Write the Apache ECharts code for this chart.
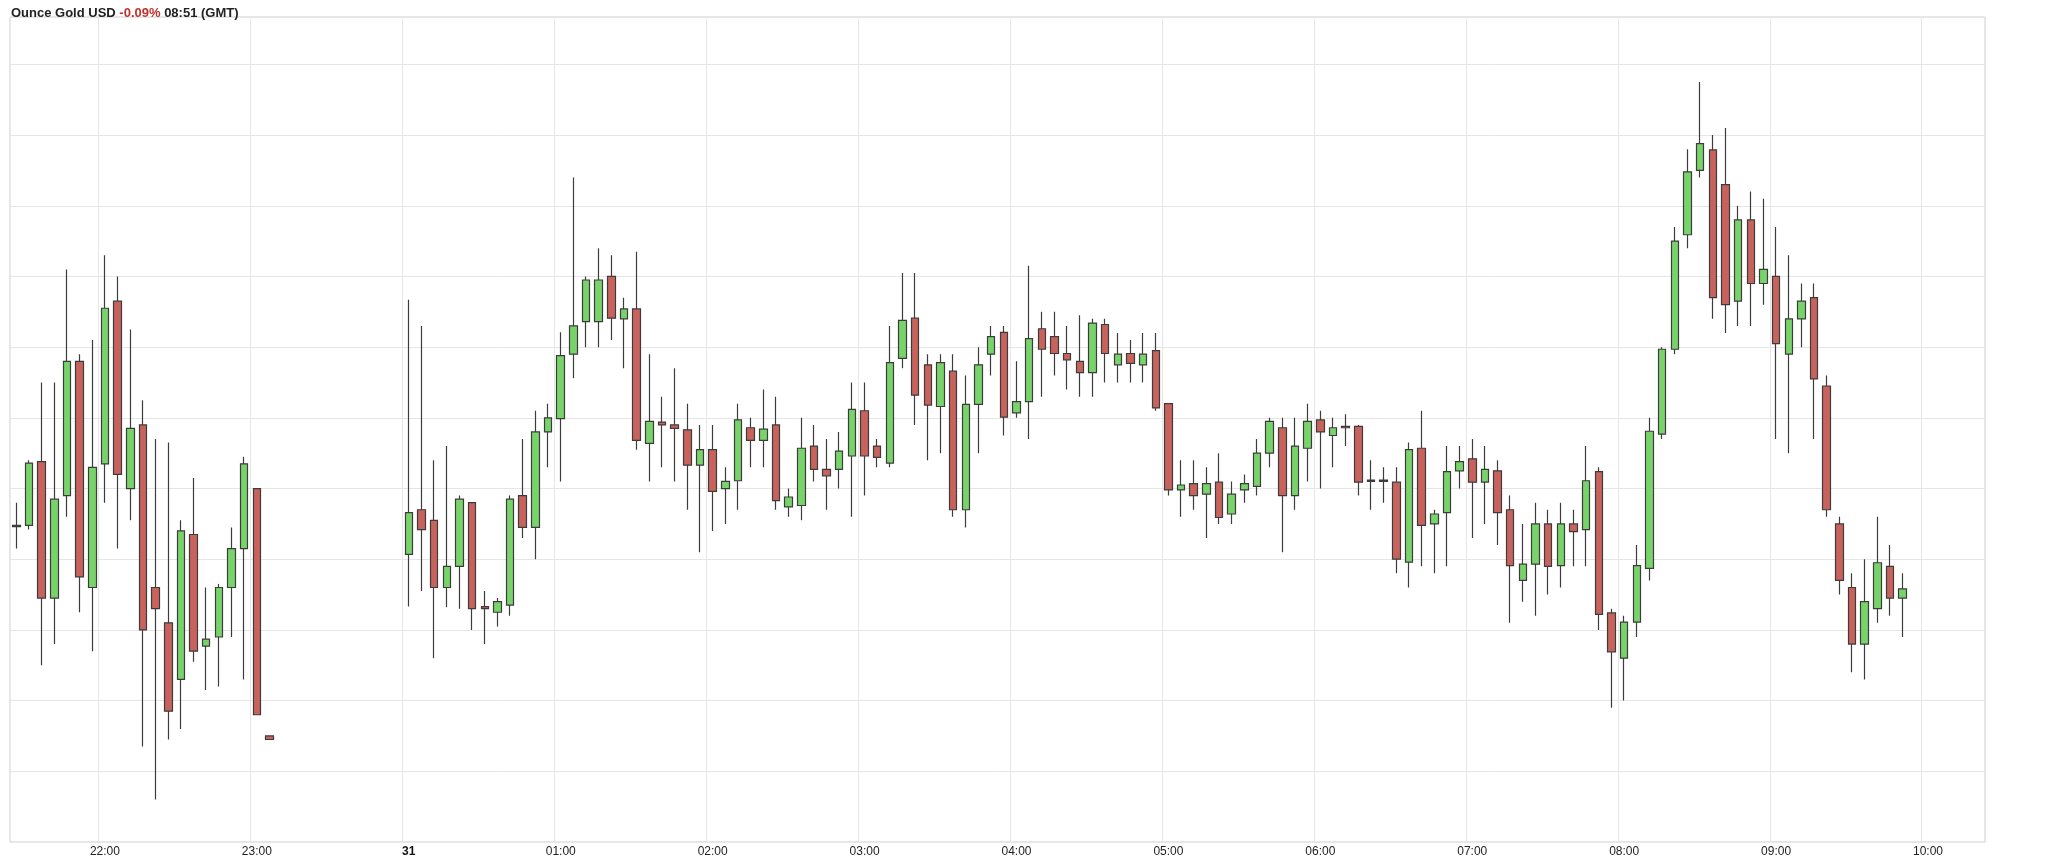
<!DOCTYPE html>
<html>
<head>
<meta charset="utf-8">
<script src="https://cdn.jsdelivr.net/npm/echarts@6/dist/echarts.min.js"></script>
<style>
  html, body { margin: 0; padding: 0; background: #fff; }
  #main { width: 2048px; height: 860px; }
</style>
</head>
<body>
<div id="main"></div>
<script>
// 5 minute slots, 21:25 -> 10:20
var startMin = 21 * 60 + 25;
var slotCount = 156;

// [open, close, low, high]  evening session 21:25 - 23:05
var session1 = [
  [2794.78, 2794.76, 2794.45, 2795.1],
  [2794.78, 2795.66, 2794.72, 2795.7],
  [2795.68, 2793.75, 2792.8, 2796.8],
  [2793.75, 2795.15, 2793.1, 2796.8],
  [2795.2, 2797.1, 2794.9, 2798.4],
  [2797.1, 2794.05, 2793.55, 2797.2],
  [2793.9, 2795.6, 2793.0, 2797.4],
  [2795.65, 2797.85, 2795.1, 2798.6],
  [2797.95, 2795.5, 2794.45, 2798.3],
  [2795.3, 2796.15, 2794.85, 2797.55],
  [2796.2, 2793.3, 2791.65, 2796.55],
  [2793.9, 2793.6, 2790.9, 2796.0],
  [2793.4, 2792.15, 2791.75, 2795.95],
  [2792.6, 2794.7, 2791.9, 2794.85],
  [2794.65, 2793.0, 2792.85, 2795.45],
  [2793.07, 2793.17, 2792.45, 2793.9],
  [2793.2, 2793.9, 2792.5, 2793.95],
  [2793.9, 2794.45, 2793.2, 2794.75],
  [2794.45, 2795.65, 2792.6, 2795.75],
  [2795.3, 2792.1, 2792.1, 2795.3],
  [2791.8, 2791.75, 2791.75, 2791.8]
];
var gapSlots = 10;

// session from 00:00
var session2 = [
  [2794.37, 2794.96, 2793.63, 2797.97],
  [2795.0, 2794.72, 2793.85, 2797.6],
  [2794.85, 2793.9, 2792.9, 2795.7],
  [2793.9, 2794.2, 2793.62, 2795.9],
  [2794.2, 2795.15, 2793.6, 2795.2],
  [2795.1, 2793.6, 2793.3, 2795.1],
  [2793.63, 2793.6, 2793.1, 2793.85],
  [2793.55, 2793.7, 2793.35, 2793.75],
  [2793.65, 2795.15, 2793.5, 2795.2],
  [2795.2, 2794.75, 2794.6, 2796.0],
  [2794.75, 2796.1, 2794.3, 2796.4],
  [2796.1, 2796.3, 2795.6, 2796.5],
  [2796.29, 2797.18, 2795.4, 2797.51],
  [2797.2, 2797.6, 2796.86, 2799.7],
  [2797.66, 2798.25, 2797.3, 2798.3],
  [2797.66, 2798.25, 2797.3, 2798.7],
  [2798.3, 2797.71, 2797.4, 2798.6],
  [2797.7, 2797.84, 2797.0, 2798.0],
  [2797.84, 2795.98, 2795.85, 2798.65],
  [2795.94, 2796.25, 2795.4, 2797.2],
  [2796.24, 2796.2, 2795.6, 2796.6],
  [2796.2, 2796.15, 2795.4, 2797.0],
  [2796.13, 2795.63, 2795.0, 2796.5],
  [2795.63, 2795.85, 2794.4, 2796.2],
  [2795.85, 2795.26, 2794.7, 2796.2],
  [2795.3, 2795.4, 2794.8, 2795.6],
  [2795.41, 2796.27, 2795.0, 2796.5],
  [2796.16, 2795.98, 2795.6, 2796.3],
  [2795.98, 2796.14, 2795.6, 2796.7],
  [2796.2, 2795.13, 2795.0, 2796.6],
  [2795.04, 2795.18, 2794.9, 2795.3],
  [2795.06, 2795.87, 2794.85, 2796.3],
  [2795.9, 2795.57, 2795.4, 2796.2],
  [2795.57, 2795.48, 2795.0, 2796.0],
  [2795.57, 2795.83, 2795.3, 2796.1],
  [2795.76, 2796.42, 2794.9, 2796.8],
  [2796.4, 2795.76, 2795.2, 2796.8],
  [2795.9, 2795.74, 2795.6, 2796.0],
  [2795.66, 2797.08, 2795.6, 2797.6],
  [2797.14, 2797.68, 2797.0, 2798.35],
  [2797.71, 2796.62, 2796.2, 2798.35],
  [2797.05, 2796.48, 2795.7, 2797.2],
  [2796.46, 2797.08, 2795.8, 2797.2],
  [2796.96, 2795.0, 2794.9, 2797.2],
  [2795.0, 2796.49, 2794.75, 2796.9],
  [2796.49, 2797.05, 2795.8, 2797.3],
  [2797.2, 2797.45, 2796.9, 2797.6],
  [2797.51, 2796.31, 2796.05, 2797.6],
  [2796.37, 2796.53, 2796.3, 2797.1],
  [2796.53, 2797.42, 2796.0, 2798.45],
  [2797.56, 2797.27, 2796.6, 2797.8],
  [2797.45, 2797.21, 2796.9, 2797.8],
  [2797.21, 2797.12, 2796.7, 2797.6],
  [2797.1, 2796.94, 2796.6, 2797.75],
  [2796.94, 2797.64, 2796.6, 2797.7],
  [2797.62, 2797.21, 2796.8, 2797.7],
  [2797.05, 2797.2, 2796.8, 2797.5],
  [2797.21, 2797.07, 2796.8, 2797.4],
  [2797.05, 2797.2, 2796.8, 2797.5],
  [2797.25, 2796.44, 2796.4, 2797.5],
  [2796.5, 2795.28, 2795.2, 2796.5],
  [2795.28, 2795.35, 2794.9, 2795.7],
  [2795.37, 2795.2, 2795.0, 2795.7],
  [2795.22, 2795.37, 2794.6, 2795.6],
  [2795.39, 2794.89, 2794.8, 2795.8],
  [2794.94, 2795.22, 2794.8, 2795.4],
  [2795.28, 2795.37, 2795.1, 2795.5],
  [2795.33, 2795.8, 2795.2, 2796.0],
  [2795.8, 2796.25, 2795.6, 2796.3],
  [2796.16, 2795.2, 2794.4, 2796.3],
  [2795.2, 2795.9, 2795.0, 2796.3],
  [2795.87, 2796.25, 2795.4, 2796.5],
  [2796.27, 2796.1, 2795.3, 2796.4],
  [2796.05, 2796.16, 2795.6, 2796.3],
  [2796.18, 2796.16, 2795.9, 2796.35],
  [2796.18, 2795.39, 2795.2, 2796.2],
  [2795.42, 2795.4, 2795.0, 2795.7],
  [2795.4, 2795.42, 2795.1, 2795.6],
  [2795.39, 2794.3, 2794.1, 2795.6],
  [2794.26, 2795.85, 2793.9, 2795.95],
  [2795.87, 2794.78, 2794.2, 2796.4],
  [2794.8, 2794.94, 2794.1, 2795.0],
  [2794.96, 2795.54, 2794.2, 2795.9],
  [2795.55, 2795.68, 2795.3, 2795.9],
  [2795.72, 2795.39, 2794.6, 2796.0],
  [2795.39, 2795.57, 2794.8, 2795.9],
  [2795.55, 2794.96, 2794.5, 2795.7],
  [2795.0, 2794.21, 2793.4, 2795.2],
  [2794.0, 2794.23, 2793.7, 2794.8],
  [2794.23, 2794.8, 2793.5, 2795.1],
  [2794.8, 2794.2, 2793.8, 2795.0],
  [2794.21, 2794.8, 2793.9, 2795.1],
  [2794.8, 2794.69, 2794.2, 2795.0],
  [2794.72, 2795.41, 2794.2, 2795.9],
  [2795.54, 2793.52, 2793.3, 2795.6],
  [2793.54, 2792.99, 2792.2, 2793.6],
  [2792.9, 2793.41, 2792.3, 2793.5],
  [2793.41, 2794.21, 2793.2, 2794.5],
  [2794.17, 2796.11, 2794.0, 2796.3],
  [2796.07, 2797.27, 2796.0, 2797.3],
  [2797.27, 2798.8, 2797.2, 2799.0],
  [2798.89, 2799.78, 2798.7, 2800.1],
  [2799.8, 2800.18, 2799.7, 2801.05],
  [2800.09, 2798.0, 2797.7, 2800.3],
  [2799.6, 2797.9, 2797.5, 2800.4],
  [2797.95, 2799.1, 2797.6, 2799.3],
  [2799.1, 2798.2, 2797.6, 2799.5],
  [2798.2, 2798.4, 2797.9, 2799.4],
  [2798.3, 2797.35, 2796.0, 2799.0],
  [2797.2, 2797.7, 2795.8, 2798.6],
  [2797.7, 2797.95, 2797.3, 2798.2],
  [2798.0, 2796.85, 2796.0, 2798.2],
  [2796.75, 2795.0, 2794.9, 2796.9],
  [2794.8, 2794.0, 2793.8, 2794.9],
  [2793.9, 2793.1, 2792.7, 2794.1],
  [2793.1, 2793.7, 2792.6, 2794.3],
  [2793.6, 2794.25, 2793.4, 2794.9],
  [2794.2, 2793.75, 2793.5, 2794.5],
  [2793.75, 2793.88, 2793.2, 2794.1]
];

var lastPrice = 2793.88;
var countdown = '3m49s';
var yTicks = [2791, 2792, 2793, 2794, 2795, 2796, 2797, 2798, 2799, 2800, 2801];

var times = [];
for (var i = 0; i < slotCount; i++) {
    var m = (startMin + i * 5) % 1440;
    var hh = Math.floor(m / 60), mm = m % 60;
    times.push((hh < 10 ? '0' : '') + hh + ':' + (mm < 10 ? '0' : '') + mm);
}

var candles = session1.slice();
for (var g = 0; g < gapSlots; g++) candles.push('-');
candles = candles.concat(session2);
while (candles.length < slotCount) candles.push('-');

var isHour = function (idx) { return times[idx].slice(3) === '00'; };

var chart = echarts.init(document.getElementById('main'));
var option = {
    backgroundColor: '#fff',
    animation: false,
    title: {
        left: 6, top: 2,
        text: '{a|Ounce Gold USD }{r|-0.09%}{a| 08:51 (GMT)}',
        textStyle: {
            rich: {
                a: {fontFamily: 'Liberation Sans', fontSize: 13, color: '#222'},
                r: {fontFamily: 'Liberation Sans', fontSize: 13, color: '#c0322b'}
            }
        }
    },
    grid: {left: 10, right: 63, top: 17, bottom: 18, show: true, borderColor: '#cfcfcf', borderWidth: 1},
    xAxis: {
        type: 'category',
        data: times,
        axisLine: {show: false},
        axisTick: {show: false},
        splitLine: {show: true, interval: function (idx) { return isHour(idx); }, lineStyle: {color: '#e6e6e6'}},
        axisLabel: {
            interval: function (idx) { return isHour(idx); },
            margin: 4,
            fontFamily: 'Liberation Sans', fontSize: 12, color: '#222',
            formatter: function (v) { return v === '00:00' ? '{b|31}' : v; },
            rich: {b: {fontWeight: 'bold', fontFamily: 'Liberation Sans', fontSize: 12, color: '#111'}}
        }
    },
    yAxis: {
        type: 'value',
        position: 'right',
        min: 2790.3, max: 2801.97,
        interval: 1,
        axisLine: {show: false},
        axisTick: {show: false},
        splitLine: {lineStyle: {color: '#e6e6e6'}},
        axisLabel: {
            margin: 6,
            fontFamily: 'Liberation Sans', fontSize: 12, color: '#222',
            formatter: function (v) {
                if (yTicks.indexOf(Math.round(v * 100) / 100) < 0) return '';
                return (v === 2795 || v === 2800) ? '{b|' + v + '}' : String(v);
            },
            rich: {b: {fontWeight: 'bold', fontFamily: 'Liberation Sans', fontSize: 12, color: '#111'}}
        }
    },
    series: [{
        type: 'candlestick',
        data: candles,
        barWidth: 8,
        itemStyle: {
            color: '#78d46a', color0: '#c8625d',
            borderColor: '#3c3c3c', borderColor0: '#3c3c3c', borderWidth: 1.2
        },
        markLine: {
            symbol: 'none', silent: true,
            lineStyle: {opacity: 0},
            data: [{yAxis: lastPrice}],
            label: {
                position: 'end', distance: 4,
                formatter: '{y|' + lastPrice.toFixed(2) + '}\n{g|' + countdown + '}',
                rich: {
                    y: {backgroundColor: '#f1d54a', color: '#111', fontFamily: 'Liberation Sans', fontSize: 12, padding: [2, 4, 1, 4]},
                    g: {backgroundColor: '#72cc63', color: '#111', fontFamily: 'Liberation Sans', fontSize: 12, padding: [1, 4, 2, 4]}
                }
            }
        }
    }]
};
chart.setOption(option);
</script>
</body>
</html>
